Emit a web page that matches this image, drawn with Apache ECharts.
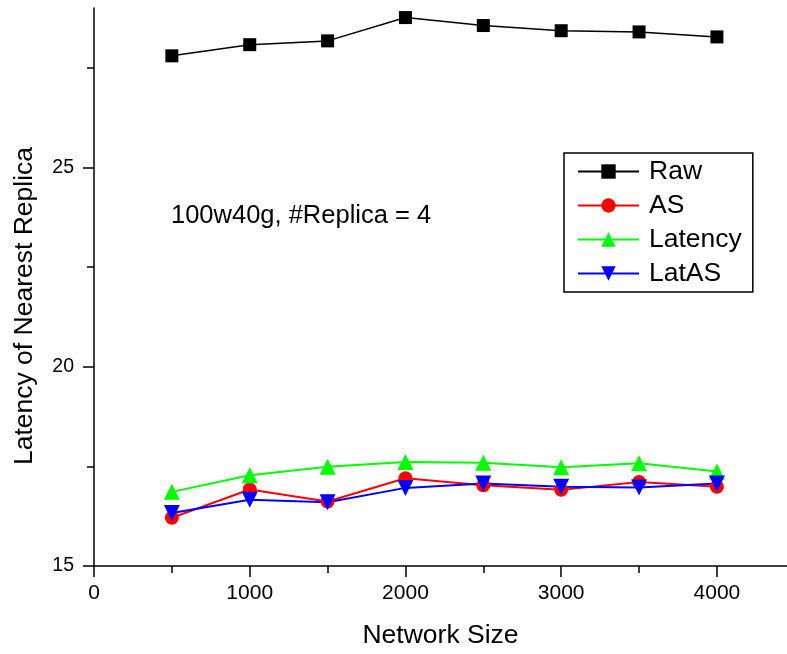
<!DOCTYPE html>
<html><head><meta charset="utf-8">
<script src="https://cdn.jsdelivr.net/npm/echarts@6/dist/echarts.min.js"></script>
<style>html,body{margin:0;padding:0;background:#fff}#c{width:787px;height:654px}</style>
</head><body><div id="c"></div>
<script>
var xValues = [500, 1000, 1500, 2000, 2500, 3000, 3500, 4000];
var raw = [27.8, 28.08, 28.175, 28.76, 28.56, 28.43, 28.4, 28.275];
var as = [16.21, 16.92, 16.62, 17.2, 17.025, 16.91, 17.11, 16.99];
var latency = [16.86, 17.275, 17.49, 17.61, 17.59, 17.475, 17.575, 17.37];
var latas = [16.33, 16.66, 16.6, 16.96, 17.07, 16.99, 16.97, 17.07];
var xMajor = [0, 1000, 2000, 3000, 4000];
var xMinor = [500, 1500, 2500, 3500];
var yMajor = [15, 20, 25];
var yMinor = [17.5, 22.5, 27.5];

function pairs(ys){ return xValues.map(function(x,i){ return [x, ys[i]]; }); }
var font = 'Liberation Sans, Arial, sans-serif';
var chart = echarts.init(document.getElementById('c'), null, {renderer:'canvas'});
var axBase = {type:'value', splitLine:{show:false}};
function plain(v){ return String(v); }
function xAxisDef(ticks, len, labels){
  return Object.assign({}, axBase, {
    min:0, max:4450, position:'bottom',
    axisLine:{show:labels, onZero:false, lineStyle:{color:'#000', width:1.5}},
    axisTick:{show:true, inside:false, length:len, customValues:ticks, lineStyle:{color:'#000', width:1.5}},
    axisLabel:{show:labels, customValues:ticks, formatter:plain, color:'#000', fontSize:21, fontFamily:font, margin:17},
    name: labels ? 'Network Size' : '', nameLocation:'middle', nameGap:56, nameMoveOverlap:false,
    nameTextStyle:{color:'#000', fontSize:26.5, fontFamily:font}
  });
}
function yAxisDef(ticks, len, labels){
  return Object.assign({}, axBase, {
    min:15, max:29, position:'left',
    axisLine:{show:labels, onZero:false, lineStyle:{color:'#000', width:1.5}},
    axisTick:{show:true, inside:false, length:len, customValues:ticks, lineStyle:{color:'#000', width:1.5}},
    axisLabel:{show:labels, customValues:ticks, formatter:plain, color:'#000', fontSize:19.5, fontFamily:font, margin:20},
    name: labels ? 'Latency of Nearest Replica' : '', nameLocation:'middle', nameGap:56, nameMoveOverlap:false,
    nameTextStyle:{color:'#000', fontSize:26.5, fontFamily:font, padding:[0,38,0,0]}
  });
}
function mk(name, data, color, symbol, size, lw){
  return {name:name, type:'line', data:pairs(data), symbol:symbol, symbolSize:size,
    lineStyle:{color:color, width:lw}, itemStyle:{color:color},
    emphasis:{disabled:true}, animation:false};
}
chart.setOption({
  animation:false,
  grid:{left:94, right:0, top:8, bottom:87},
  title:{text:'100w40g, #Replica = 4', left:166, top:198, textStyle:{color:'#000', fontSize:25.5, fontWeight:'normal', fontFamily:font}},
  legend:{
    left:564, top:153, orient:'vertical', itemWidth:61, itemHeight:18, itemGap:7,
    padding:[5,11,5,13], borderColor:'#000', borderWidth:1.5,
    textStyle:{color:'#000', fontSize:26.5, fontFamily:font, padding:[0,0,0,5]},
    data:['Raw','AS','Latency','LatAS']
  },
  xAxis:[xAxisDef(xMajor, 11, true), xAxisDef(xMinor, 7, false)],
  yAxis:[yAxisDef(yMajor, 11, true), yAxisDef(yMinor, 7, false)],
  series:[
    mk('Raw', raw, '#000', 'rect', 13, 1.5),
    mk('AS', as, '#ff0000', 'circle', 14, 2),
    mk('Latency', latency, '#00ff00', 'triangle', 16, 2),
    mk('LatAS', latas, '#0000ff', 'path://M0,0 L10,0 L5,9 Z', 16, 2)
  ]
});
</script></body></html>
